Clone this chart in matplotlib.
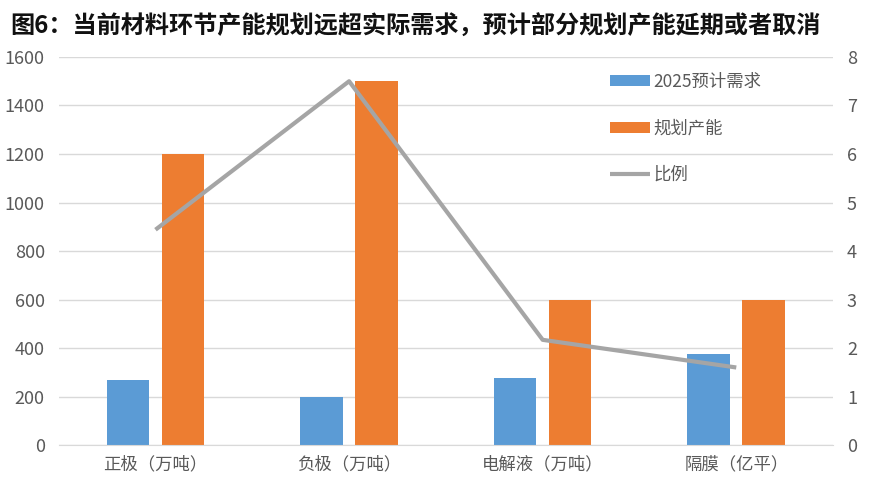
import numpy as np
import matplotlib.pyplot as plt

plt.rcParams['font.family'] = ['Liberation Sans Narrow', 'Noto Sans CJK SC', 'DejaVu Sans']

categories = ["正极（万吨）", "负极（万吨）", "电解液（万吨）", "隔膜（亿平）"]
demand_2025 = [270, 200, 275, 375]
planned = [1200, 1500, 600, 600]
ratio = [4.44, 7.5, 2.17, 1.6]

title = "图6：当前材料环节产能规划远超实际需求，预计部分规划产能延期或者取消"

blue = "#5B9BD5"
orange = "#ED7D31"
grey = "#A5A5A5"
tick_color = "#595959"

fig = plt.figure(figsize=(8.76, 4.87), dpi=100)
ax = fig.add_axes([0.067, 0.086, 0.884, 0.797])
ax2 = ax.twinx()

x = np.arange(len(categories))
w = 0.22
ax.bar(x - 0.142, demand_2025, width=w, color=blue, label="2025预计需求", zorder=2)
ax.bar(x + 0.142, planned, width=w, color=orange, label="规划产能", zorder=2)
ax2.plot(x, ratio, color=grey, linewidth=3, label="比例", solid_capstyle="butt")

ax.set_xlim(-0.5, 3.5)
ax.set_ylim(0, 1600)
ax.set_yticks(range(0, 1601, 200))
ax2.set_ylim(0, 8)
ax2.set_yticks(range(0, 9))

ax.grid(axis="y", color="#D9D9D9", linewidth=1, zorder=0)
ax.set_axisbelow(True)
for a in (ax, ax2):
    for s in a.spines.values():
        s.set_visible(False)
    a.tick_params(length=0, labelsize=13, colors=tick_color)
ax.spines["bottom"].set_visible(True)
ax.spines["bottom"].set_color("#D9D9D9")

ax.set_xticks(x)
ax.set_xticklabels(categories, fontsize=12.5, color=tick_color)
ax.tick_params(axis="x", pad=7)
ax.tick_params(axis="y", pad=10)
ax2.tick_params(axis="y", pad=10)

h1, l1 = ax.get_legend_handles_labels()
h2, l2 = ax2.get_legend_handles_labels()
leg = ax.legend(h1 + h2, l1 + l2, loc="upper left", bbox_to_anchor=(0.692, 1.0),
                frameon=False, fontsize=12.5, labelspacing=1.65, handlelength=2.3,
                handleheight=0.6, handletextpad=0.2)
for t in leg.get_texts():
    t.set_color(tick_color)

fig.text(0.012, 0.945, title, fontsize=17.4, fontweight="bold", color="#111111",
         family=['Noto Sans CJK SC', 'DejaVu Sans'], va="center")

fig.savefig("out.png", dpi=100)
